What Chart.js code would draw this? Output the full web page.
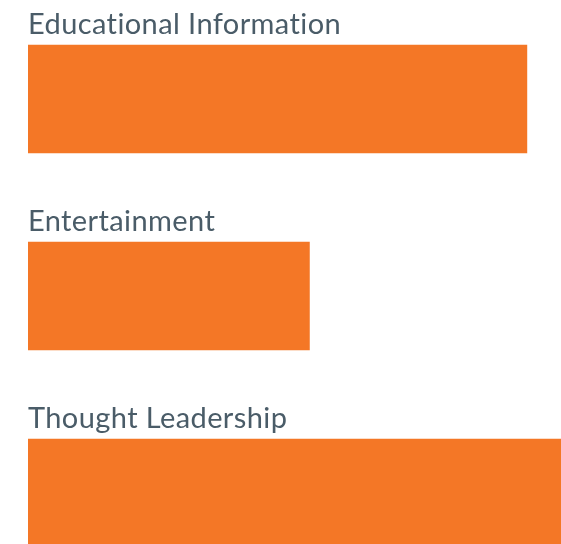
<!DOCTYPE html>
<html>
<head>
<meta charset="utf-8">
<script src="https://cdn.jsdelivr.net/npm/chart.js@4"></script>
<style>
  html, body { margin: 0; padding: 0; background: #fff; overflow: hidden; }
  #wrap { position: relative; width: 561px; height: 592px; }
</style>
</head>
<body>
<div id="wrap"><canvas id="contentChart"></canvas></div>
<script>
  const categories = ["Educational Information", "Entertainment", "Thought Leadership"];
  const shares = [93.6, 52.8, 100];
  const axisMax = 100;

  const BAR = "#f47726";
  const TEXT = "#4a5c68";

  // labels sit just above each bar, left-aligned with it
  const topLabels = {
    id: "topLabels",
    afterDatasetsDraw(chart) {
      const { ctx, scales } = chart;
      const meta = chart.getDatasetMeta(0);
      ctx.save();
      ctx.font = "29px Lato";
      ctx.letterSpacing = "0.4px";
      ctx.fillStyle = TEXT;
      ctx.textAlign = "left";
      ctx.textBaseline = "alphabetic";
      meta.data.forEach((bar, i) => {
        const top = bar.y - bar.height / 2;
        ctx.fillText(categories[i], scales.x.left, top - 11);
      });
      ctx.restore();
    }
  };

  new Chart(document.getElementById("contentChart"), {
    type: "bar",
    data: {
      labels: categories,
      datasets: [{
        data: shares,
        backgroundColor: BAR,
        borderWidth: 0,
        barThickness: 108
      }]
    },
    options: {
      indexAxis: "y",
      responsive: true,
      maintainAspectRatio: false,
      animation: false,
      layout: { padding: { left: 28, right: 0, top: 0.5, bottom: 0.5 } },
      scales: {
        x: { display: false, min: 0, max: axisMax },
        y: { display: false }
      },
      plugins: {
        legend: { display: false },
        tooltip: { enabled: false }
      }
    },
    plugins: [topLabels]
  });
</script>
</body>
</html>
